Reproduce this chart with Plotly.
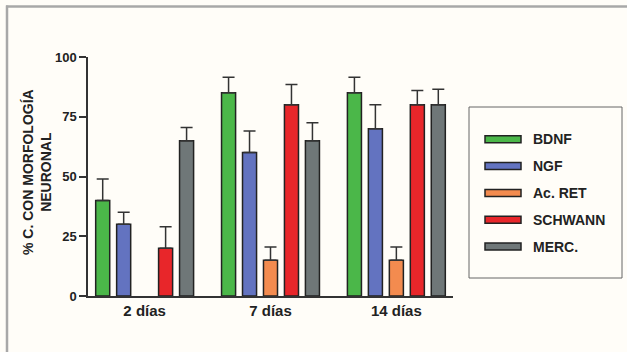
import plotly.graph_objects as go

categories = ["2 días", "7 días", "14 días"]
series_names = ["BDNF", "NGF", "Ac. RET", "SCHWANN", "MERC."]
bdnf = [40, 85, 85]
ngf = [30, 60, 70]
ac_ret = [None, 15, 15]
schwann = [20, 80, 80]
merc = [65, 65, 80]
bdnf_err = [9, 6.5, 6.5]
ngf_err = [5, 9, 10]
ac_ret_err = [None, 5.5, 5.5]
schwann_err = [9, 8.5, 6]
merc_err = [5.5, 7.5, 6.5]
y_ticks = [0, 25, 50, 75, 100]
y_title = "% C. CON MORFOLOGÍA<br>NEURONAL"

values = [bdnf, ngf, ac_ret, schwann, merc]
errors = [bdnf_err, ngf_err, ac_ret_err, schwann_err, merc_err]
colors = ["#4bb749", "#6373c0", "#f38b4f", "#e8262a", "#6f7778"]

W, H = 627, 352
L, R, T, B = 88, 453, 57, 296

def px(x):
    return (x - L) / (R - L)

def py(y):
    return (B - y) / (B - T)

font_family = "Liberation Sans, Arial, sans-serif"
txt = "#222222"
axc = "#333333"

fig = go.Figure()
for name, vals, errs, col in zip(series_names, values, errors, colors):
    fig.add_trace(go.Bar(
        x=categories, y=vals, name=name,
        marker=dict(color=col, line=dict(color="#222222", width=1.5)),
        error_y=dict(type="data", symmetric=False, array=errs,
                     arrayminus=[0 if e is not None else None for e in errs],
                     color=axc, thickness=1.5, width=6),
        showlegend=False,
    ))

shapes = [
    # outer frame (top and left visible)
    dict(type="line", xref="paper", yref="paper", x0=px(6), x1=px(W + 5), y0=py(6.5), y1=py(6.5),
         line=dict(color="#a8a8a8", width=2.5), layer="above"),
    dict(type="line", xref="paper", yref="paper", x0=px(7), x1=px(7), y0=py(5.5), y1=py(H + 5),
         line=dict(color="#a8a8a8", width=2.5), layer="above"),
    # legend box
    dict(type="rect", xref="paper", yref="paper", x0=px(469), x1=px(622), y0=py(107), y1=py(278),
         line=dict(color="#666666", width=1), fillcolor="rgba(0,0,0,0)"),
]
annotations = [
    dict(text=y_title, xref="paper", yref="paper", x=px(37), y=py(172), textangle=-90,
         showarrow=False, xanchor="center", yanchor="middle",
         font=dict(family=font_family, size=14, color=txt, weight="bold")),
]
y0 = 139.3
step = 26.8
for i, (name, col) in enumerate(zip(series_names, colors)):
    yc = y0 + i * step
    shapes.append(dict(type="rect", xref="paper", yref="paper", x0=px(485), x1=px(521),
                       y0=py(yc - 3.5), y1=py(yc + 3.5), fillcolor=col,
                       line=dict(color="#222222", width=1.5)))
    annotations.append(dict(text=name, xref="paper", yref="paper", x=px(531), y=py(yc),
                            xanchor="left", yanchor="middle", showarrow=False,
                            font=dict(family=font_family, size=14, color=txt, weight="bold")))

fig.update_layout(
    width=W, height=H,
    margin=dict(l=L, r=W - R, t=T, b=H - B, pad=0),
    paper_bgcolor="#fffdf8", plot_bgcolor="rgba(0,0,0,0)",
    barmode="group", bargap=0.167, bargroupgap=0.33,
    shapes=shapes, annotations=annotations,
    xaxis=dict(range=[-0.45, 2.45], showline=True, linecolor=axc, linewidth=1.5,
               ticks="", showgrid=False, zeroline=False,
               tickfont=dict(family=font_family, size=15, color=txt, weight="bold"),
               ticklabelstandoff=0),
    yaxis=dict(range=[0, 100], tickvals=y_ticks, showline=True, linecolor=axc, linewidth=1.5,
               ticks="outside", ticklen=7, tickwidth=1.5, tickcolor=axc,
               showgrid=False, zeroline=False,
               tickfont=dict(family=font_family, size=13, color=txt, weight="bold")),
)

fig.write_html("out.html",
               config={"displayModeBar": False},
               post_script="document.body.style.margin='0';document.body.style.overflow='hidden';document.body.style.background='#fffdf8';")
